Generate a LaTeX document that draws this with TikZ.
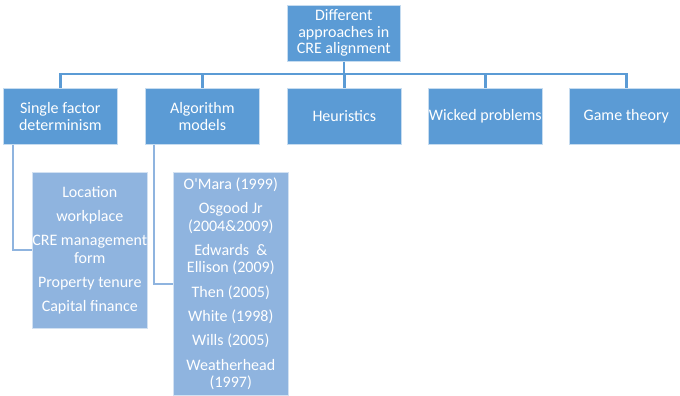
\documentclass[tikz,border=0pt]{standalone}
\usepackage{fontspec}
\setmainfont{Carlito}
\definecolor{dark}{HTML}{5B9BD5}
\definecolor{light}{HTML}{8FB4DF}
\begin{document}
\begin{tikzpicture}[x=1pt,y=-1pt,
  box/.style={rectangle, fill=dark, draw=white!65!dark, line width=0.6pt,
    text=white, inner sep=0pt, minimum width=114pt, minimum height=56pt,
    align=center, anchor=north west, font=\fontsize{16}{16.5}\selectfont},
  sub/.style={box, fill=light, draw=white!60!light, minimum width=115pt,
    font=\fontsize{16}{17.3}\selectfont},
  link/.style={draw=dark, line width=2.4pt},
  sublink/.style={draw=light, line width=2pt}]
\useasboundingbox (0,0) rectangle (680,396);

% root and first level
\node[box, minimum width=113pt] (top) at (287,5) {Different\\approaches in\\CRE alignment};
\node[box] (c1) at (3,88)   {Single factor\\determinism};
\node[box] (c2) at (145,88) {Algorithm\\models};
\node[box] (c3) at (287,88) {Heuristics};
\node[box] (c4) at (428,88) {Wicked problems};
\node[box] (c5) at (569,88) {Game theory};

% detail lists
\node[sub, minimum height=156pt] (loc) at (32,172)
  {Location\\[7pt]workplace\\[7pt]CRE management\\form\\[7pt]Property tenure\\[7pt]Capital finance};
\node[sub, minimum height=223pt] (alg) at (173,172)
  {O\textquotesingle Mara (1999)\\[7pt]Osgood Jr\\(2004\&2009)\\[7pt]Edwards~~\&\\Ellison (2009)\\[7pt]Then (2005)\\[7pt]White (1998)\\[7pt]Wills (2005)\\[7pt]Weatherhead\\(1997)};

% tree connectors
\coordinate (hub) at (top.south |- 0,74);
\draw[link] (top.south) -- (hub);
\foreach \c in {c1,c2,c3,c4,c5}
  \draw[link] (hub) -| (\c.north);

\draw[sublink] ([xshift=10pt]c1.south west) |- (loc.west);
\draw[sublink] ([xshift=9pt]c2.south west) |- (alg.west);
\end{tikzpicture}
\end{document}
